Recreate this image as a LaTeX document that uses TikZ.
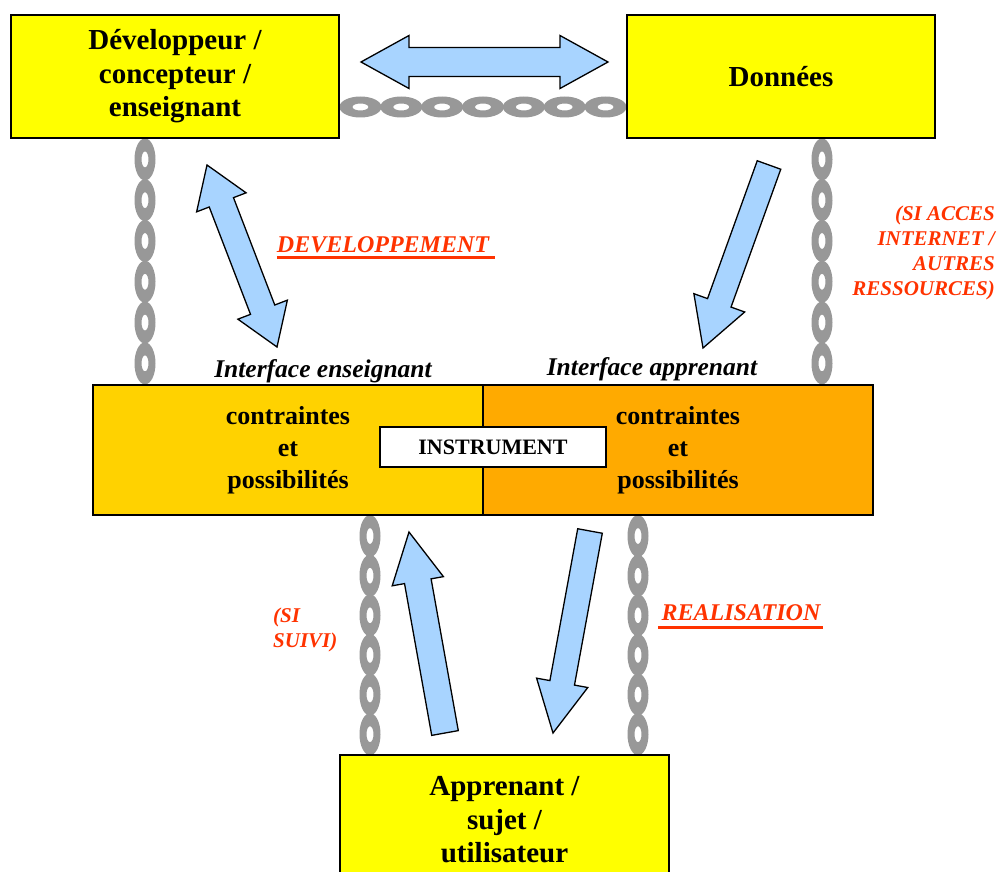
\documentclass[tikz,border=0pt]{standalone}
\usepackage{fontspec}
\setmainfont{Liberation Serif}
\usetikzlibrary{calc,decorations.markings}
\definecolor{boxyellow}{RGB}{255,255,0}
\definecolor{ifaceyellow}{RGB}{255,210,0}
\definecolor{ifaceorange}{RGB}{255,170,0}
\definecolor{arrowblue}{RGB}{168,212,255}
\definecolor{chaingray}{RGB}{152,152,152}
\definecolor{labelred}{RGB}{255,51,0}
\pgfdeclarelayer{background}
\pgfsetlayers{background,main}
\newcommand\chainlink{\fill[chaingray, even odd rule] (0,0) ellipse [x radius=21pt, y radius=10.5pt] (0,0) ellipse [x radius=8pt, y radius=3.5pt];}
% single block arrow: tail, tip, shaft half width, head half width, head length
\newcommand\blockarrow[5]{%
  \coordinate (baB) at ($(#2)!#5!(#1)$);
  \filldraw[barrowstyle] ($(#1)!#3!90:(#2)$) -- ($(baB)!#3!90:(#2)$) -- ($(baB)!#4!90:(#2)$) -- (#2)
    -- ($(baB)!#4!-90:(#2)$) -- ($(baB)!#3!-90:(#2)$) -- ($(#1)!#3!-90:(#2)$) -- cycle;}
% double block arrow: tip A, tip B, shaft half width, head half width, head length
\newcommand\dblarrow[5]{%
  \coordinate (daA) at ($(#1)!#5!(#2)$);
  \coordinate (daB) at ($(#2)!#5!(#1)$);
  \filldraw[barrowstyle] (#1) -- ($(daA)!#4!90:(#2)$) -- ($(daA)!#3!90:(#2)$) -- ($(daB)!#3!-90:(#1)$)
    -- ($(daB)!#4!-90:(#1)$) -- (#2) -- ($(daB)!#4!90:(#1)$) -- ($(daB)!#3!90:(#1)$)
    -- ($(daA)!#3!-90:(#2)$) -- ($(daA)!#4!-90:(#2)$) -- cycle;}
\tikzset{
  barrowstyle/.style={fill=arrowblue, draw=black, line width=1.3pt, line join=miter},
  topbox/.style={draw, line width=2pt, fill=boxyellow, inner sep=0pt, align=center,
    font=\fontsize{29}{33.5}\selectfont\bfseries},
  ifbox/.style={draw, line width=2.5pt, inner sep=0pt, align=center,
    font=\fontsize{26}{32}\selectfont\bfseries},
  ifacelbl/.style={inner sep=0pt, font=\fontsize{25.5}{30}\selectfont\bfseries\itshape},
  redlbl/.style={inner sep=0pt, text=labelred, font=\fontsize{24}{28}\selectfont\bfseries\itshape},
  redsmall/.style={inner sep=0pt, text=labelred, font=\fontsize{21}{25}\selectfont\bfseries\itshape},
  redline/.style={draw=labelred, line width=3pt},
  chainsix/.style={decoration={markings, mark=between positions 0.08333 and 0.99 step 0.16667 with {\chainlink}}, decorate},
  chainseven/.style={decoration={markings, mark=between positions 0.0714 and 0.99 step 0.142857 with {\chainlink}}, decorate},
}
\begin{document}
\begin{tikzpicture}[x=1pt,y=-1pt]
\useasboundingbox (0,0) rectangle (999,872);
\clip (0,0) rectangle (999,872);

% boxes
\node[topbox, minimum width=328pt, minimum height=123pt] (dev) at (175,76.5) {Développeur /\\concepteur /\\enseignant};
\node[topbox, minimum width=308pt, minimum height=123pt] (don) at (781,76.5) {Données};
\node[ifbox, fill=ifaceyellow, minimum width=390pt, minimum height=130pt] (ifl) at (288,450) {contraintes\\et\\possibilités};
\node[ifbox, fill=ifaceorange, minimum width=390pt, minimum height=130pt] (ifr) at (678,450) {contraintes\\et\\possibilités};
\node[draw, line width=1.5pt, fill=white, inner sep=0pt, minimum width=226pt, minimum height=40pt,
  font=\fontsize{22}{25}\selectfont\bfseries] (instr) at (493,447) {INSTRUMENT};
\node[topbox, minimum width=329pt, minimum height=130pt] (app) at (504.5,820) {Apprenant /\\sujet /\\utilisateur};

% chains (behind the boxes)
\path (145,0) coordinate (cxa) (822,0) coordinate (cxb) (370,0) coordinate (cxc) (638,0) coordinate (cxd) (0,107) coordinate (cya);
\begin{pgfonlayer}{background}
  \fill[white] (0,0) rectangle (999,872);
  \path[chainseven] (dev.east |- cya) -- (don.west |- cya);
  \path[chainsix] (dev.south -| cxa) -- (ifl.north -| cxa);
  \path[chainsix] (don.south -| cxb) -- (ifr.north -| cxb);
  \path[chainsix] (ifl.south -| cxc) -- (app.north -| cxc);
  \path[chainsix] (ifr.south -| cxd) -- (app.north -| cxd);
\end{pgfonlayer}

% block arrows
\coordinate (a1a) at (361,62); \coordinate (a1b) at (608,62);
\dblarrow{a1a}{a1b}{14.5pt}{26.5pt}{48pt}
\coordinate (a2a) at (207,165); \coordinate (a2b) at (277,347);
\dblarrow{a2a}{a2b}{13pt}{26.5pt}{40pt}
\coordinate (a3t) at (769,165); \coordinate (a3h) at (703,348);
\blockarrow{a3t}{a3h}{12.5pt}{27pt}{48pt}
\coordinate (a4t) at (445,733); \coordinate (a4h) at (409,532);
\blockarrow{a4t}{a4h}{13.5pt}{26pt}{50pt}
\coordinate (a5t) at (590,531); \coordinate (a5h) at (553,733);
\blockarrow{a5t}{a5h}{12.5pt}{26pt}{51pt}

% labels
\node[ifacelbl, anchor=base] (ile) at (323,377) {Interface enseignant};
\node[ifacelbl, anchor=base] (ila) at (652,375) {Interface apprenant};
\node[redlbl, anchor=base] (ldev) at (383,252) {DEVELOPPEMENT};
\draw[redline] ($(ldev.base west)+(0,5)$) -- ($(ldev.base east)+(6,5)$);
\node[redlbl, anchor=base] (lreal) at (741,620) {REALISATION};
\draw[redline] ($(lreal.base west)+(-3,7)$) -- ($(lreal.base east)+(2,7)$);
\node[redsmall, align=right, anchor=base east] (linet) at (995,295) {(SI ACCES\\INTERNET /\\AUTRES\\RESSOURCES)};
\node[redsmall, align=left, anchor=base west] (lsuivi) at (273,647) {(SI\\SUIVI)};
\end{tikzpicture}
\end{document}
